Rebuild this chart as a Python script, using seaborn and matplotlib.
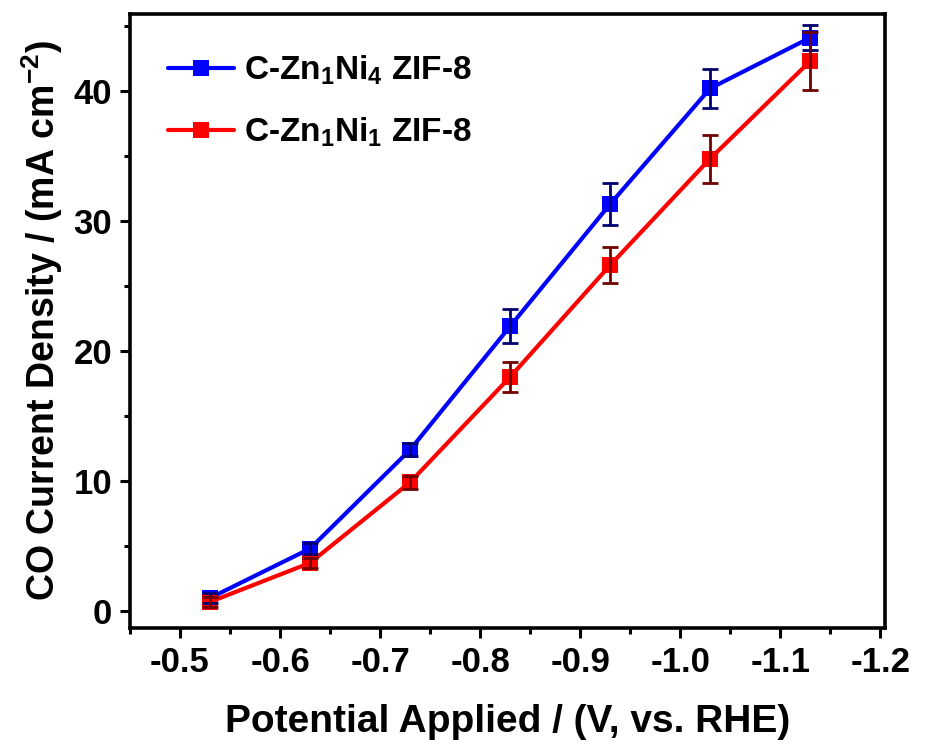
import numpy as np
import pandas as pd
import matplotlib
matplotlib.use('Agg')
import matplotlib.pyplot as plt
import seaborn as sns
from matplotlib.ticker import MultipleLocator

# Datos
potencial = [-0.53, -0.63, -0.73, -0.83, -0.93, -1.03, -1.13]
j_zn1ni4 = [1.0, 4.8, 12.4, 21.9, 31.3, 40.2, 44.1]
err_zn1ni4 = [0.4, 0.4, 0.5, 1.3, 1.6, 1.5, 0.95]
j_zn1ni1 = [0.7, 3.7, 9.9, 18.0, 26.6, 34.8, 42.3]
err_zn1ni1 = [0.4, 0.4, 0.5, 1.15, 1.4, 1.85, 2.2]
xticks = [-0.5, -0.6, -0.7, -0.8, -0.9, -1.0, -1.1, -1.2]

etiquetas = [r'C-Zn$_{\mathbf{1}}$Ni$_{\mathbf{4}}$ ZIF-8',
             r'C-Zn$_{\mathbf{1}}$Ni$_{\mathbf{1}}$ ZIF-8']
colores = ['#0000FF', '#FF0000']
colores_err = ['#000070', '#700000']

df = pd.DataFrame({
    'potencial': potencial * 2,
    'j': j_zn1ni4 + j_zn1ni1,
    'muestra': [etiquetas[0]] * len(potencial) + [etiquetas[1]] * len(potencial),
})

# Configuración
sns.set_theme(style='ticks')
plt.rcParams['font.family'] = ['Liberation Sans', 'DejaVu Sans']
plt.rcParams['font.weight'] = 'bold'
plt.rcParams['text.color'] = 'black'
plt.rcParams['axes.labelcolor'] = 'black'
plt.rcParams['axes.edgecolor'] = 'black'
plt.rcParams['xtick.color'] = 'black'
plt.rcParams['ytick.color'] = 'black'
plt.rcParams['mathtext.fontset'] = 'custom'
plt.rcParams['mathtext.rm'] = 'Liberation Sans:bold'
plt.rcParams['mathtext.bf'] = 'Liberation Sans:bold'
plt.rcParams['mathtext.it'] = 'Liberation Sans:bold'

fig = plt.figure(figsize=(9.25, 7.52), dpi=100)
ax = fig.add_axes([0.1405, 0.165, 0.8165, 0.816])

sns.lineplot(data=df, x='potencial', y='j', hue='muestra', hue_order=etiquetas,
             palette=colores, marker='s', markersize=12, markeredgewidth=0,
             linewidth=3, ax=ax, zorder=2)

for y, e, c in [(j_zn1ni4, err_zn1ni4, colores_err[0]), (j_zn1ni1, err_zn1ni1, colores_err[1])]:
    ax.errorbar(potencial, y, yerr=e, fmt='none', ecolor=c, elinewidth=2,
                capsize=5.5, capthick=2, zorder=3)

ax.set_xlim(-0.45, -1.205)
ax.set_ylim(-1.3, 45.9)
ax.set_xticks(xticks)
ax.set_xticklabels([f'{v:.1f}' for v in xticks])
ax.xaxis.set_minor_locator(MultipleLocator(0.05))
ax.yaxis.set_major_locator(MultipleLocator(10))
ax.yaxis.set_minor_locator(MultipleLocator(5))

ax.tick_params(which='major', direction='out', length=7, width=2.2, labelsize=25, pad=6)
ax.tick_params(which='minor', direction='out', length=4, width=2.2)
for s in ax.spines.values():
    s.set_linewidth(2.6)
    s.set_visible(True)

ax.set_xlabel('Potential Applied / (V, vs. RHE)', fontsize=28, fontweight='bold', labelpad=18)
ax.set_ylabel(r'CO Current Density / (mA cm$^{\mathbf{-2}}$)', fontsize=27,
              fontweight='bold', labelpad=6)

handles, labels = ax.get_legend_handles_labels()
ax.legend(handles, labels, loc='upper left', frameon=False, fontsize=24,
          handlelength=2.0, borderaxespad=0.5, labelspacing=0.85, handletextpad=0.3,
          bbox_to_anchor=(0.01, 0.985))

fig.savefig('out.png', dpi=100)
